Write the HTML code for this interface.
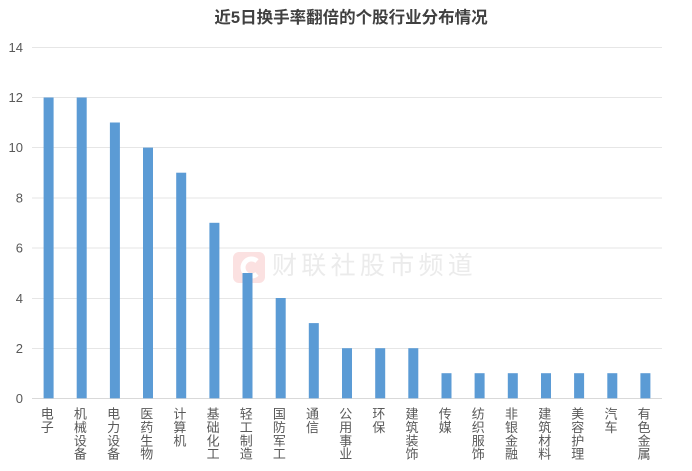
<!DOCTYPE html>
<html><head><meta charset="utf-8"><style>
html,body{margin:0;padding:0;background:#fff;}
svg{display:block;}
</style></head><body>
<svg width="692" height="471" viewBox="0 0 692 471" xmlns="http://www.w3.org/2000/svg">
<rect width="692" height="471" fill="#fff"/>
<text x="351" y="23" text-anchor="middle" font-family="'Liberation Sans','Noto Sans CJK SC',sans-serif" font-size="16.5" font-weight="bold" fill="#404040">近5日换手率翻倍的个股行业分布情况</text>
<g stroke="#e6e6e6" stroke-width="1">
<line x1="32" x2="662" y1="47.5" y2="47.5"/>
<line x1="32" x2="662" y1="97.5" y2="97.5"/>
<line x1="32" x2="662" y1="147.5" y2="147.5"/>
<line x1="32" x2="662" y1="198" y2="198"/>
<line x1="32" x2="662" y1="248" y2="248"/>
<line x1="32" x2="662" y1="298.5" y2="298.5"/>
<line x1="32" x2="662" y1="348.5" y2="348.5"/>
</g>
<line x1="32" x2="662" y1="398.5" y2="398.5" stroke="#d9d9d9" stroke-width="1"/>
<g font-family="'Liberation Sans',sans-serif" font-size="13" fill="#595959" text-anchor="end">
<text x="23" y="52">14</text>
<text x="23" y="102">12</text>
<text x="23" y="152">10</text>
<text x="23" y="202.5">8</text>
<text x="23" y="252.5">6</text>
<text x="23" y="303">4</text>
<text x="23" y="353">2</text>
<text x="23" y="403">0</text>
</g>
<!-- watermark -->
<rect x="233" y="252" width="32" height="31" rx="6" fill="#fbe1e1"/>
<path d="M257 261 A8.5 8.5 0 1 0 257 274" fill="none" stroke="#fff" stroke-width="5"/>
<text x="272" y="274" font-family="'Noto Sans CJK SC',sans-serif" font-size="25" letter-spacing="4.3" fill="#ebebeb">财联社股市频道</text>
<g fill="#5b9bd5">
<rect x="43.6" y="97.5" width="10" height="300.8"/>
<rect x="76.7" y="97.5" width="10" height="300.8"/>
<rect x="109.9" y="122.5" width="10" height="275.8"/>
<rect x="143.0" y="147.6" width="10" height="250.7"/>
<rect x="176.2" y="172.7" width="10" height="225.6"/>
<rect x="209.4" y="222.8" width="10" height="175.5"/>
<rect x="242.5" y="273" width="10" height="125.3"/>
<rect x="275.7" y="298" width="10" height="100.3"/>
<rect x="308.8" y="323.1" width="10" height="75.2"/>
<rect x="342.0" y="348.2" width="10" height="50.1"/>
<rect x="375.2" y="348.2" width="10" height="50.1"/>
<rect x="408.3" y="348.2" width="10" height="50.1"/>
<rect x="441.5" y="373.2" width="10" height="25.1"/>
<rect x="474.6" y="373.2" width="10" height="25.1"/>
<rect x="507.8" y="373.2" width="10" height="25.1"/>
<rect x="541.0" y="373.2" width="10" height="25.1"/>
<rect x="574.1" y="373.2" width="10" height="25.1"/>
<rect x="607.3" y="373.2" width="10" height="25.1"/>
<rect x="640.4" y="373.2" width="10" height="25.1"/>
</g>
<g font-family="'Noto Sans CJK SC',sans-serif" font-size="13" fill="#595959" text-anchor="middle">
<text y="418.5"><tspan x="47.3">电</tspan><tspan x="47.3" dy="13.4">子</tspan></text>
<text y="418.5"><tspan x="80.4">机</tspan><tspan x="80.4" dy="13.4">械</tspan><tspan x="80.4" dy="13.4">设</tspan><tspan x="80.4" dy="13.4">备</tspan></text>
<text y="418.5"><tspan x="113.6">电</tspan><tspan x="113.6" dy="13.4">力</tspan><tspan x="113.6" dy="13.4">设</tspan><tspan x="113.6" dy="13.4">备</tspan></text>
<text y="418.5"><tspan x="146.8">医</tspan><tspan x="146.8" dy="13.4">药</tspan><tspan x="146.8" dy="13.4">生</tspan><tspan x="146.8" dy="13.4">物</tspan></text>
<text y="418.5"><tspan x="179.9">计</tspan><tspan x="179.9" dy="13.4">算</tspan><tspan x="179.9" dy="13.4">机</tspan></text>
<text y="418.5"><tspan x="213.1">基</tspan><tspan x="213.1" dy="13.4">础</tspan><tspan x="213.1" dy="13.4">化</tspan><tspan x="213.1" dy="13.4">工</tspan></text>
<text y="418.5"><tspan x="246.2">轻</tspan><tspan x="246.2" dy="13.4">工</tspan><tspan x="246.2" dy="13.4">制</tspan><tspan x="246.2" dy="13.4">造</tspan></text>
<text y="418.5"><tspan x="279.4">国</tspan><tspan x="279.4" dy="13.4">防</tspan><tspan x="279.4" dy="13.4">军</tspan><tspan x="279.4" dy="13.4">工</tspan></text>
<text y="418.5"><tspan x="312.5">通</tspan><tspan x="312.5" dy="13.4">信</tspan></text>
<text y="418.5"><tspan x="345.7">公</tspan><tspan x="345.7" dy="13.4">用</tspan><tspan x="345.7" dy="13.4">事</tspan><tspan x="345.7" dy="13.4">业</tspan></text>
<text y="418.5"><tspan x="378.9">环</tspan><tspan x="378.9" dy="13.4">保</tspan></text>
<text y="418.5"><tspan x="412.0">建</tspan><tspan x="412.0" dy="13.4">筑</tspan><tspan x="412.0" dy="13.4">装</tspan><tspan x="412.0" dy="13.4">饰</tspan></text>
<text y="418.5"><tspan x="445.2">传</tspan><tspan x="445.2" dy="13.4">媒</tspan></text>
<text y="418.5"><tspan x="478.3">纺</tspan><tspan x="478.3" dy="13.4">织</tspan><tspan x="478.3" dy="13.4">服</tspan><tspan x="478.3" dy="13.4">饰</tspan></text>
<text y="418.5"><tspan x="511.5">非</tspan><tspan x="511.5" dy="13.4">银</tspan><tspan x="511.5" dy="13.4">金</tspan><tspan x="511.5" dy="13.4">融</tspan></text>
<text y="418.5"><tspan x="544.7">建</tspan><tspan x="544.7" dy="13.4">筑</tspan><tspan x="544.7" dy="13.4">材</tspan><tspan x="544.7" dy="13.4">料</tspan></text>
<text y="418.5"><tspan x="577.8">美</tspan><tspan x="577.8" dy="13.4">容</tspan><tspan x="577.8" dy="13.4">护</tspan><tspan x="577.8" dy="13.4">理</tspan></text>
<text y="418.5"><tspan x="611.0">汽</tspan><tspan x="611.0" dy="13.4">车</tspan></text>
<text y="418.5"><tspan x="644.1">有</tspan><tspan x="644.1" dy="13.4">色</tspan><tspan x="644.1" dy="13.4">金</tspan><tspan x="644.1" dy="13.4">属</tspan></text>
</g>
</svg>
</body></html>
